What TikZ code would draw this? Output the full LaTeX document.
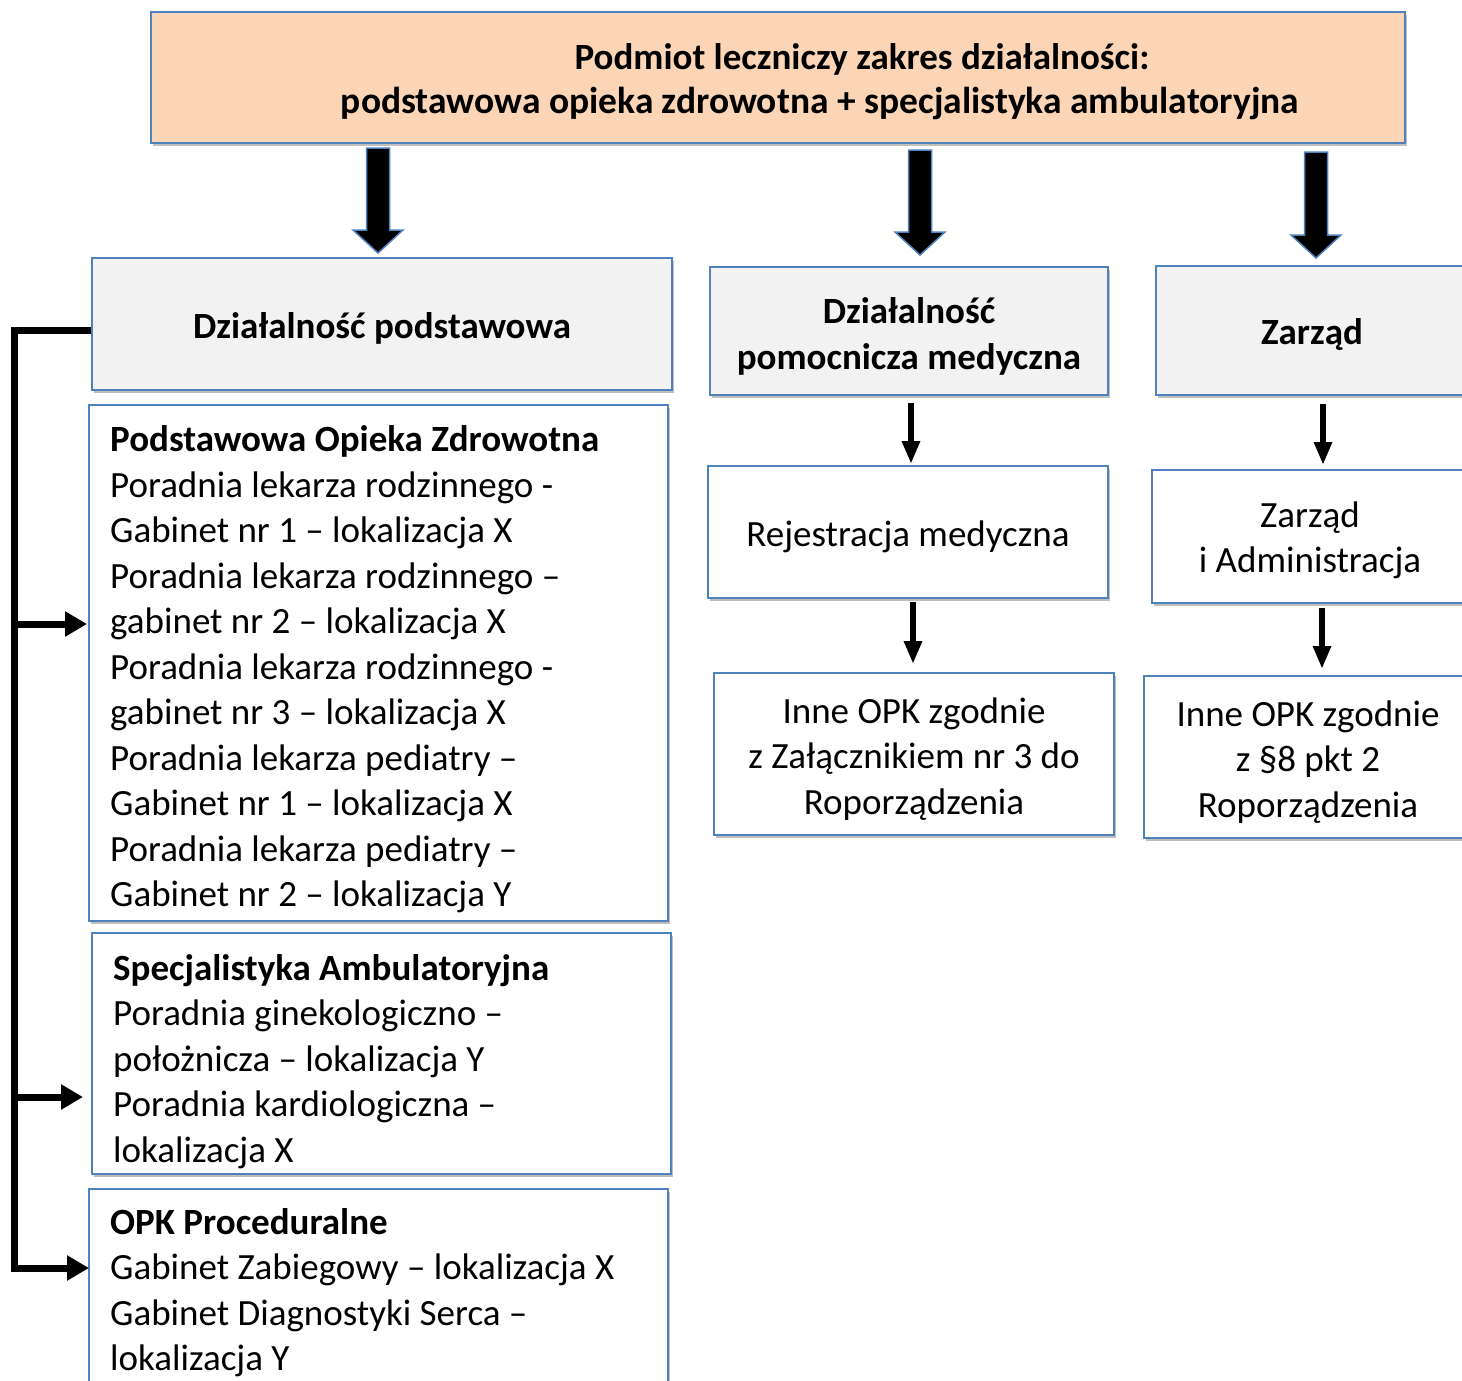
\documentclass[tikz,border=0pt]{standalone}
\usepackage{fontspec}
\setmainfont{Carlito}
\usetikzlibrary{arrows.meta,shadows,calc}
\definecolor{frame}{HTML}{4F81BD}
\definecolor{peach}{HTML}{FBD5B5}
\definecolor{panel}{HTML}{F2F2F2}
% block arrow: x, top y, tip y
\newcommand\blockarrow[3]{%
  \filldraw[bigarrow] (#1-11.5,#2) -- (#1+11.5,#2) -- (#1+11.5,#3-23)
    -- (#1+25,#3-23) -- (#1,#3) -- (#1-25,#3-23) -- (#1-11.5,#3-23) -- cycle;}
\begin{document}
\begin{tikzpicture}[x=1pt,y=-1pt,
  txt/.style={font=\fontsize{37}{45.5}\selectfont, inner sep=0pt},
  btxt/.style={font=\fontsize{37}{45.5}\selectfont\bfseries, inner sep=0pt},
  ctxt/.style={txt, align=center},
  bctxt/.style={font=\fontsize{37}{46}\selectfont\bfseries, inner sep=0pt, align=center},
  ltxt/.style={txt, align=left, anchor=west},
  box/.style={draw=frame, line width=2pt, fill=white, inner sep=0pt,
    drop shadow={shadow xshift=2pt,shadow yshift=-3pt,opacity=0.25,fill=black}},
  graybox/.style={box, fill=panel},
  bigarrow/.style={fill=black, draw=frame, line width=1.5pt, line join=miter},
  smallarrow/.style={line width=6pt, -{Triangle[width=17pt,length=23pt]}},
  spine/.style={line width=7pt, line join=miter},
  spinearrow/.style={spine, -{Triangle[width=24pt,length=22pt]}}
]
\useasboundingbox (0,0) rectangle (1462,1381);
\clip (0,0) rectangle (1462,1381);

% header
\node[box, fill=peach, minimum width=1254, minimum height=131] (top) at (778,77.5) {};
\node[btxt] (t1) at (862,59.5) {Podmiot leczniczy zakres działalności:};
\node[btxt, font=\fontsize{37.5}{44}\selectfont\bfseries] (t2) at (820,103.5) {podstawowa opieka zdrowotna + specjalistyka ambulatoryjna};

% block arrows below the header
\blockarrow{378}{148}{253}
\blockarrow{920}{150}{255}
\blockarrow{1316}{152}{258}

% second level
\node[graybox, minimum width=580, minimum height=132] (pod) at (382,324) {};
\node[graybox, minimum width=398, minimum height=128] (pom) at (909,331) {};
\node[graybox, minimum width=312, minimum height=129] (zar) at (1312,330.5) {};
\node[btxt] (pod-t) at (382,328) {Działalność podstawowa};
\node[bctxt] (pom-t) at (909,336) {Działalność\\pomocnicza medyczna};
\node[btxt] (zar-t) at (1312,334.5) {Zarząd};

% middle column
\node[box, minimum width=400, minimum height=132] (rej) at (908,532) {};
\node[box, minimum width=400, minimum height=162] (inne1) at (914,754) {};
\node[txt] (rej-t) at (908,537) {Rejestracja medyczna};
\node[ctxt] (inne1-t) at (914,759) {Inne OPK zgodnie\\z Załącznikiem nr 3 do\\Roporządzenia};

% right column
\node[box, minimum width=316, minimum height=133] (adm) at (1310,536.5) {};
\node[box, minimum width=328, minimum height=162] (inne2) at (1308,757) {};
\node[ctxt] (adm-t) at (1310,540.5) {Zarząd\\i Administracja};
\node[ctxt] (inne2-t) at (1308,762) {Inne OPK zgodnie\\z §8 pkt 2\\Roporządzenia};

% left column lists
\node[box, minimum width=579, minimum height=516] (poz) at (378.5,663) {};
\node[box, minimum width=579, minimum height=241] (sa) at (381.5,1053.5) {};
\node[box, minimum width=579, minimum height=206] (opk) at (378.5,1292) {};
\node[ltxt] (poz-t) at (110,669.5) {%
\textbf{Podstawowa Opieka Zdrowotna}\\
Poradnia lekarza rodzinnego -\\
Gabinet nr 1 – lokalizacja X\\
Poradnia lekarza rodzinnego –\\
gabinet nr 2 – lokalizacja X\\
Poradnia lekarza rodzinnego -\\
gabinet nr 3 – lokalizacja X\\
Poradnia lekarza pediatry –\\
Gabinet nr 1 – lokalizacja X\\
Poradnia lekarza pediatry –\\
Gabinet nr 2 – lokalizacja Y};
\node[ltxt] (sa-t) at (113,1061.5) {%
\textbf{Specjalistyka Ambulatoryjna}\\
Poradnia ginekologiczno –\\
położnicza – lokalizacja Y\\
Poradnia kardiologiczna –\\
lokalizacja X};
\node[ltxt] (opk-t) at (110,1292.5) {%
\textbf{OPK Proceduralne}\\
Gabinet Zabiegowy – lokalizacja X\\
Gabinet Diagnostyki Serca –\\
lokalizacja Y};

% vertical connectors
\draw[smallarrow] ($(pom.south)+(2,7)$) -- ($(rej.north)+(3,-1)$);
\draw[smallarrow] ($(rej.south)+(5,3)$) -- ($(inne1.north)+(-1,-8)$);
\draw[smallarrow] ($(zar.south)+(11,8)$) -- ($(adm.north)+(13,-4)$);
\draw[smallarrow] ($(adm.south)+(12,4)$) -- ($(inne2.north)+(14,-6)$);

% left spine with branches
\coordinate (elbow) at (14,330);
\coordinate (foot) at (14,1268);
\coordinate (b1) at (14,624);
\coordinate (b2) at (14,1097);
\draw[spinearrow] ($(pod.west)+(0,6)$) -- (elbow) -- (foot) -- ($(foot -| opk.west)+(1,0)$);
\draw[spinearrow] (b1) -- ($(b1 -| poz.west)+(-1,0)$);
\draw[spinearrow] (b2) -- ($(b2 -| sa.west)+(-8,0)$);
\end{tikzpicture}
\end{document}
